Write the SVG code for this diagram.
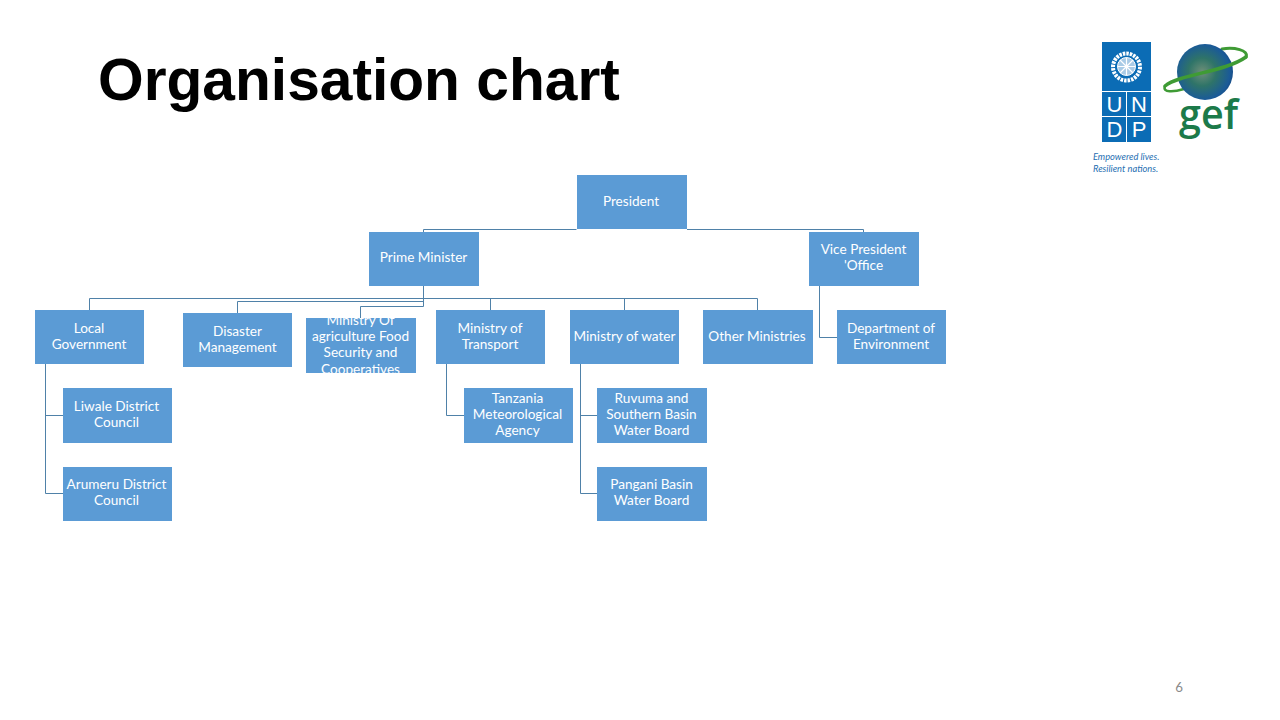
<svg xmlns="http://www.w3.org/2000/svg" width="1280" height="720" viewBox="0 0 1280 720">
<style>
.b{fill:#5b9bd5}
.t{font-family:Lato,"Open Sans",sans-serif;font-size:13.6px;fill:#fff;text-anchor:middle}
.c{fill:none;stroke:#4f81a8;stroke-width:1}
.u{font-family:"Liberation Sans",Arial,sans-serif;font-size:22px;fill:#fff;text-anchor:middle}
.e{font-family:Lato,sans-serif;font-size:9.3px;font-style:italic;fill:#1f6fb2}
.r{fill:none;stroke:#3f9b35;stroke-linecap:round}
</style>
<defs>
<clipPath id="ag"><rect x="306" y="318" width="110" height="55"/></clipPath>
<radialGradient id="globe" cx="0.45" cy="0.5" r="0.62"><stop offset="0" stop-color="#6f8f78"/><stop offset="0.4" stop-color="#2f7468"/><stop offset="0.8" stop-color="#1a5a98"/><stop offset="1" stop-color="#143f75"/></radialGradient>
</defs>
<rect width="1280" height="720" fill="#fff"/>
<text x="98" y="100" font-family="'Liberation Sans',Arial,sans-serif" font-weight="700" font-size="58.700" fill="#000">Organisation chart</text>
<g id="connectors" class="c">
<path class="c" d="M576.500 229.500H423.500V232"/>
<path class="c" d="M687 229.500H863.500V232"/>
<path class="c" d="M423.500 286V306.500"/>
<path class="c" d="M423.500 298.500H89.500V310"/>
<path class="c" d="M423.500 301.500H237.500V313"/>
<path class="c" d="M423.500 306.500H360.500V318"/>
<path class="c" d="M423.500 298.500H757.500V310"/>
<path class="c" d="M490.500 298.500V310"/>
<path class="c" d="M624.500 298.500V310"/>
<path class="c" d="M45.500 364V493.500H63"/>
<path class="c" d="M45.500 415.500H63"/>
<path class="c" d="M446.500 364V415.500H464"/>
<path class="c" d="M580.500 364V493.500H597"/>
<path class="c" d="M580.500 415.500H597"/>
<path class="c" d="M819.500 286V337.500H837"/>
</g>
<g id="president"><rect class="b" x="577" y="175" width="110" height="54"/><text class="t" x="631" y="206">President</text></g>
<g id="prime-minister"><rect class="b" x="369" y="232" width="110" height="54"/><text class="t" x="423.500" y="262">Prime Minister</text></g>
<g id="vice-president"><rect class="b" x="809" y="232" width="110" height="54"/><text class="t" x="863.500" y="254">Vice President</text><text class="t" x="863.500" y="270">'Office</text></g>
<g id="local-government"><rect class="b" x="35" y="310" width="109" height="54"/><text class="t" x="89" y="333">Local</text><text class="t" x="89" y="349">Government</text></g>
<g id="disaster-management"><rect class="b" x="183" y="313" width="109" height="54"/><text class="t" x="237.500" y="336">Disaster</text><text class="t" x="237.500" y="352">Management</text></g>
<g id="ministry-agriculture"><rect class="b" x="306" y="318" width="110" height="55"/><g clip-path="url(#ag)"><text class="t" x="360.500" y="325">Ministry Of</text><text class="t" x="360.500" y="341">agriculture Food</text><text class="t" x="360.500" y="357">Security and</text><text class="t" x="360.500" y="374">Cooperatives</text></g></g>
<g id="ministry-transport"><rect class="b" x="436" y="310" width="109" height="54"/><text class="t" x="490" y="333">Ministry of</text><text class="t" x="490" y="349">Transport</text></g>
<g id="ministry-water"><rect class="b" x="570" y="310" width="109" height="54"/><text class="t" x="624.500" y="341">Ministry of water</text></g>
<g id="other-ministries"><rect class="b" x="703" y="310" width="110" height="54"/><text class="t" x="757" y="341">Other Ministries</text></g>
<g id="department-environment"><rect class="b" x="837" y="310" width="109" height="54"/><text class="t" x="891" y="333">Department of</text><text class="t" x="891" y="349">Environment</text></g>
<g id="liwale"><rect class="b" x="63" y="388" width="109" height="55"/><text class="t" x="116.500" y="411">Liwale District</text><text class="t" x="116.500" y="427">Council</text></g>
<g id="arumeru"><rect class="b" x="63" y="467" width="109" height="54"/><text class="t" x="116.500" y="489">Arumeru District</text><text class="t" x="116.500" y="505">Council</text></g>
<g id="tanzania-met"><rect class="b" x="464" y="388" width="109" height="55"/><text class="t" x="517.500" y="403">Tanzania</text><text class="t" x="517.500" y="419">Meteorological</text><text class="t" x="517.500" y="435">Agency</text></g>
<g id="ruvuma"><rect class="b" x="597" y="388" width="110" height="55"/><text class="t" x="651.500" y="403">Ruvuma and</text><text class="t" x="651.500" y="419">Southern Basin</text><text class="t" x="651.500" y="435">Water Board</text></g>
<g id="pangani"><rect class="b" x="597" y="467" width="110" height="54"/><text class="t" x="651.500" y="489">Pangani Basin</text><text class="t" x="651.500" y="505">Water Board</text></g>
<g id="undp-logo">
<rect x="1102" y="42" width="49" height="100" fill="#0b6cb5"/>
<path d="M1102 91.500H1151M1102 116.500H1151M1126.500 92V142" stroke="#fff" stroke-width="1" fill="none"/>
<circle cx="1126.500" cy="67" r="13.500" fill="none" stroke="#fff" stroke-width="4" stroke-dasharray="2.500 1"/>
<circle cx="1126.500" cy="66.500" r="9" fill="#a9cbe6" stroke="#fff" stroke-width="1"/>
<path d="M1117.500 66.500H1135.500M1126.500 57.500V75.500M1120 60L1133 73M1133 60L1120 73" stroke="#fff" stroke-width="1.200" fill="none"/>
<text class="u" x="1114.500" y="112">U</text><text class="u" x="1139" y="112">N</text><text class="u" x="1114.500" y="137">D</text><text class="u" x="1139" y="137">P</text>
<text class="e" x="1093" y="160">Empowered lives.</text><text class="e" x="1093" y="172">Resilient nations.</text>
</g>
<g id="gef-logo">
<path class="r" stroke-width="2.500" d="M1165 86C1162 93 1174 92 1184 89"/>
<path class="r" stroke-width="3" d="M1246 57C1249 50 1234 47 1222 49"/>
<circle cx="1205" cy="72" r="28" fill="url(#globe)"/>
<path class="r" stroke-width="3.500" d="M1165 86C1180 74 1225 72 1246 57"/>
<text x="1179" y="129" font-family="'Open Sans',sans-serif" font-size="41" font-weight="600" fill="#1c7a4a" textLength="59" lengthAdjust="spacingAndGlyphs">gef</text>
</g>
<text x="1179" y="692" font-family="Lato,sans-serif" font-size="13.300" fill="#8a8a8a" text-anchor="middle">6</text>
</svg>
